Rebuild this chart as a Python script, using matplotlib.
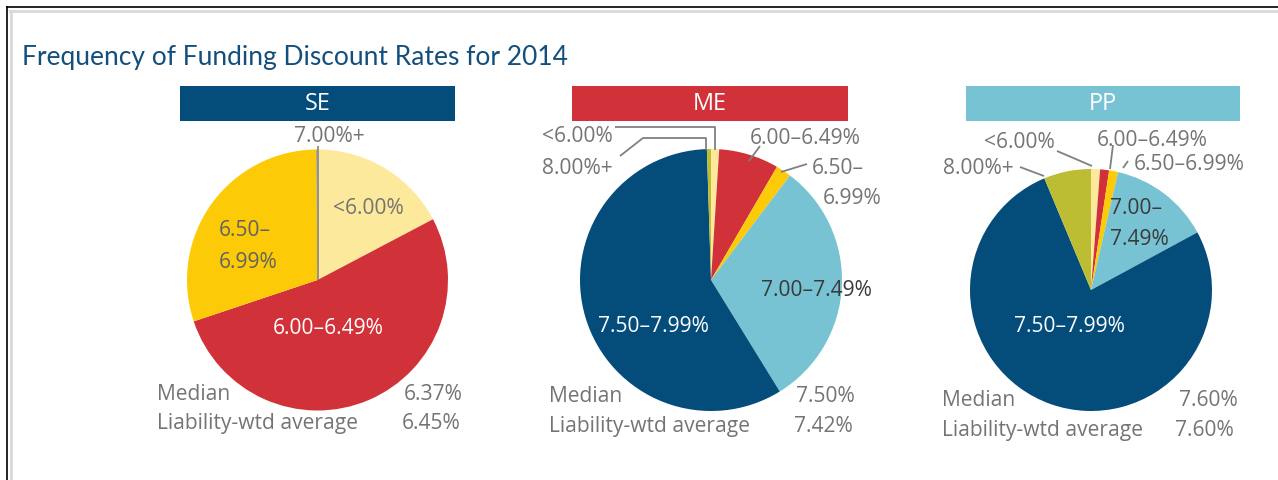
import matplotlib
matplotlib.use("Agg")
import matplotlib.pyplot as plt
from matplotlib.patches import Rectangle
from matplotlib.lines import Line2D

W, H = 1278, 481

# ---- data ----
title = "Frequency of Funding Discount Rates for 2014"
groups = ["SE", "ME", "PP"]
se_cats = ["<6.00%", "6.00–6.49%", "6.50–6.99%", "7.00%+"]
se_vals = [17.3, 52.6, 30.0, 0.15]
me_cats = ["<6.00%", "6.00–6.49%", "6.50–6.99%", "7.00–7.49%", "7.50–7.99%", "8.00%+"]
me_vals = [1.0, 7.4, 1.9, 30.9, 58.3, 0.5]
pp_cats = ["<6.00%", "6.00–6.49%", "6.50–6.99%", "7.00–7.49%", "7.50–7.99%", "8.00%+"]
pp_vals = [1.2, 1.2, 1.2, 13.5, 76.6, 6.3]
medians = ["6.37%", "7.50%", "7.60%"]
liab_avg = ["6.45%", "7.42%", "7.60%"]

# ---- style ----
C_LY, C_RED, C_YEL, C_LB, C_DB, C_OL = "#fde99b", "#d13239", "#fdca08", "#77c3d3", "#044c7a", "#bdbd33"
C_TXT = "#747474"
C_DARK = "#3a3a3a"
C_LINE = "#808080"
FONT = "Open Sans"

plt.rcParams["font.family"] = [FONT, "DejaVu Sans"]

fig = plt.figure(figsize=(W / 100, H / 100), dpi=100)
ax = fig.add_axes([0, 0, 1, 1])
ax.set_xlim(0, W)
ax.set_ylim(0, H)
renderer = fig.canvas.get_renderer()

def fit_size(s, target_px, family, base=14):
    t = ax.text(0, 0, s, fontsize=base, family=family)
    w = t.get_window_extent(renderer).width
    t.remove()
    return base * target_px / w

FS = fit_size("Liability-wtd average", 201, FONT)
FS_T = fit_size(title, 546, "Lato", 19)

def Y(py):
    return H - py

def txt(x, y, s, ha="center", va="center", color=C_TXT, size=None, **kw):
    ax.text(x, Y(y), s, ha=ha, va=va, color=color, fontsize=size or FS, **kw)

def leader(xs, ys, color=C_LINE, lw=1.3):
    ax.add_line(Line2D(xs, [Y(v) for v in ys], color=color, lw=lw, solid_capstyle="butt"))

# frame lines
ax.add_line(Line2D([7, W], [Y(8), Y(8)], color="black", lw=1.2))
ax.add_line(Line2D([7, 7], [Y(8), 0], color="black", lw=1.2))
ax.add_line(Line2D([10, W], [Y(11.5), Y(11.5)], color="#d8d8d8", lw=2))
ax.add_line(Line2D([10.5, 10.5], [Y(11.5), 0], color="#d8d8d8", lw=2))

# title
ax.text(22, Y(57), title, ha="left", va="center", color="#134f7c", fontsize=FS_T, family="Lato")

# header bars
bars = [(180, 455, C_DB), (572, 848, C_RED), (966, 1240, C_LB)]
for (x0, x1, c), g in zip(bars, groups):
    ax.add_patch(Rectangle((x0, Y(122)), x1 - x0, 35, color=c, lw=0))
    txt((x0 + x1) / 2, 104.5, g, color="white", size=FS * 1.12)

def pie(vals, colors, cx, cy, r):
    wedges, _ = ax.pie(vals, colors=colors, center=(cx, Y(cy)), radius=r, startangle=90,
                       counterclock=False, wedgeprops=dict(linewidth=0), frame=True)
    return wedges

# SE
pie(se_vals, [C_LY, C_RED, C_YEL, "#8e8e80"], 317.5, 281, 130.5)
leader([317.5, 317.5], [147, 281], color="#8e8e80", lw=1.3)
txt(329, 137, se_cats[3])
txt(368, 208, se_cats[0])
txt(219, 231, "6.50–", ha="left", color="#626262")
txt(219, 262, "6.99%", ha="left", color="#626262")
txt(328, 328, se_cats[1], color="white")

# ME
pie(me_vals, [C_LY, C_RED, C_YEL, C_LB, C_DB, C_OL], 711, 281, 131)
txt(577, 136, me_cats[0])
txt(577, 168, me_cats[5])
leader([615, 715, 715], [128, 128, 151])
leader([620, 643, 706, 706], [157, 139, 139, 151])
txt(805, 138, me_cats[1])
leader([760, 749], [147, 162])
txt(838, 168, "6.50–")
txt(852, 199, "6.99%")
leader([807, 781], [165, 173])
txt(816, 291, me_cats[3], color=C_DARK)
txt(653, 326, me_cats[4], color="white")

# PP
pie(pp_vals, [C_LY, C_RED, C_YEL, C_LB, C_DB, C_OL], 1091, 291, 121)
txt(1019, 142, pp_cats[0])
leader([1057, 1092], [152, 167])
txt(978, 168, pp_cats[5])
leader([1020, 1044], [168, 177])
txt(1152, 141, pp_cats[1])
leader([1113, 1110], [146, 170])
txt(1189, 164, pp_cats[2])
leader([1128, 1123], [162, 169])
txt(1110, 208, "7.00–", ha="left", color=C_DARK)
txt(1110, 240, "7.49%", ha="left", color=C_DARK)
txt(1069, 327, pp_cats[4], color="white")

# medians
stat_pos = [(157, 463, 460, 395, 424), (549, 855, 853, 397, 427), (942, 1238, 1234, 401, 431)]
for (xl, xr1, xr2, y1, y2), m, a in zip(stat_pos, medians, liab_avg):
    txt(xl, y1, "Median", ha="left")
    txt(xr1, y1, m, ha="right")
    txt(xl, y2, "Liability-wtd average", ha="left")
    txt(xr2, y2, a, ha="right")

ax.set_xlim(0, W)
ax.set_ylim(0, H)
ax.set_aspect("equal")
ax.set_axis_off()

fig.savefig("out.png", dpi=100, facecolor="white")
